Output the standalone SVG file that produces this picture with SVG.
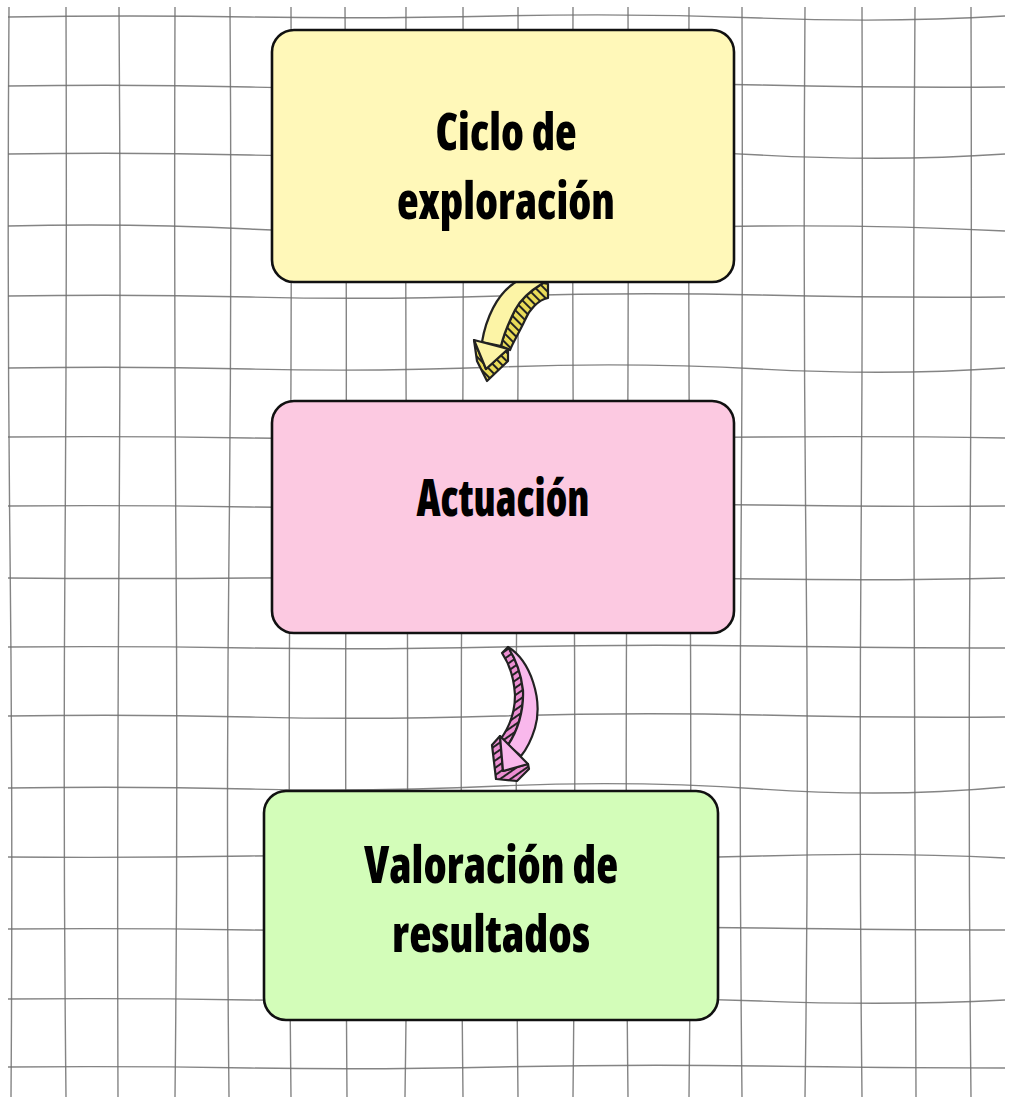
<svg xmlns="http://www.w3.org/2000/svg" width="1012" height="1097" viewBox="0 0 1012 1097">
<style>
.grid path{fill:none;stroke:#6f6f6f;stroke-width:1.4;opacity:.85}
.box{stroke:#111;stroke-width:2.6}
.lbl{font-family:"Open Sans","DejaVu Sans Condensed","Liberation Sans",sans-serif;font-weight:800;font-stretch:condensed;font-size:52px;fill:#000;text-anchor:middle}
.edge path{stroke:#222;stroke-width:2.2;stroke-linejoin:round}
</style>
<defs>
<pattern id="hy" patternUnits="userSpaceOnUse" width="6" height="6" patternTransform="rotate(-45)">
<rect width="6" height="6" fill="#E9DB58"/><line x1="1" y1="0" x2="1" y2="6" stroke="#222" stroke-width="2"/>
</pattern>
<pattern id="hp" patternUnits="userSpaceOnUse" width="6" height="6" patternTransform="rotate(55)">
<rect width="6" height="6" fill="#EC8ED2"/><line x1="1" y1="0" x2="1" y2="6" stroke="#222" stroke-width="2"/>
</pattern>
</defs>
<rect width="1012" height="1097" fill="#fff"/>
<g class="grid">
<path d="M8 17 Q130 15 250 17 T500 16 T760 18 T1005 16"/>
<path d="M8 86 Q130 84 250 87 T500 86 T760 85 T1005 87"/>
<path d="M8 154 Q130 152 250 155 T500 153 T760 155 T1005 154"/>
<path d="M8 226 Q130 223 250 229 T500 231 T760 226 T1005 231"/>
<path d="M8 296 Q130 294 250 297 T500 296 T760 295 T1005 297"/>
<path d="M8 368 Q130 366 250 369 T500 367 T760 369 T1005 368"/>
<path d="M8 437 Q130 436 250 438 T500 439 T760 437 T1005 438"/>
<path d="M8 506 Q130 505 250 507 T500 506 T760 505 T1005 506"/>
<path d="M8 578 Q130 579 250 578 T500 577 T760 579 T1005 578"/>
<path d="M8 647 Q130 646 250 648 T500 647 T760 646 T1005 648"/>
<path d="M8 716 Q130 714 250 717 T500 716 T760 715 T1005 717"/>
<path d="M8 788 Q130 786 250 789 T500 786 T760 789 T1005 787"/>
<path d="M8 857 Q130 858 250 856 T500 857 T760 856 T1005 858"/>
<path d="M8 929 Q130 928 250 930 T500 929 T760 928 T1005 930"/>
<path d="M8 999 Q130 998 250 1000 T500 999 T760 1001 T1005 1000"/>
<path d="M8 1067 Q130 1066 250 1068 T500 1067 T760 1066 T1005 1068"/>
<path d="M9 7 Q7 280 10 550 T11 1097"/>
<path d="M66 7 Q67 280 65 550 T66 1097"/>
<path d="M119 7 Q121 280 119 550 T118 1097"/>
<path d="M175 7 Q174 280 176 550 T175 1097"/>
<path d="M230 7 Q232 280 229 550 T229 1097"/>
<path d="M291 7 Q292 280 290 550 T291 1097"/>
<path d="M345 7 Q347 280 346 550 T347 1097"/>
<path d="M406 7 Q405 280 407 550 T405 1097"/>
<path d="M463 7 Q464 280 462 550 T463 1097"/>
<path d="M518 7 Q519 280 517 550 T518 1097"/>
<path d="M573 7 Q572 280 574 550 T573 1097"/>
<path d="M628 7 Q629 280 627 550 T628 1097"/>
<path d="M689 7 Q688 280 690 550 T689 1097"/>
<path d="M742 7 Q743 280 741 550 T742 1097"/>
<path d="M805 7 Q803 280 806 550 T805 1097"/>
<path d="M862 7 Q863 280 861 550 T862 1097"/>
<path d="M915 7 Q913 280 914 550 T916 1097"/>
<path d="M971 7 Q972 280 970 550 T971 1097"/>
</g>
<g class="edge" id="connectors">
<g id="arrow1">
<path d="M543 283 L548 284 L548 298 C538 300 529 310 525 320 C519 333 513 342 510 350 L501 346 C504 333 509 322 515 310 C520 300 530 291 543 283 Z" fill="url(#hy)"/>
<path d="M482 342 C486 318 497 295 513 284 C522 277 535 276 543 283 C530 291 520 300 515 310 C509 322 504 333 501 346 Z" fill="#FCF4A6"/>
<path d="M474 340 L486 369 L508 349 L508 361 L487 381 L477 361 Z" fill="url(#hy)"/>
<path d="M474 340 L508 349 L486 369 Z" fill="#FCF4A6"/>
</g>
<g id="arrow2">
<path d="M502 653 L508 647 C515 658 521 672 523 690 C524 712 517 732 508 745 L500 740 C509 728 515 712 515 695 C514 678 510 665 502 653 Z" fill="url(#hp)"/>
<path d="M508 647 C531 661 543 700 535 728 C531 741 526 750 521 756 L508 745 C517 732 524 712 523 690 C521 672 515 658 508 647 Z" fill="#F9B8EC"/>
<path d="M500 736 L492 745 L496 779 L517 781 L529 769 L528 764 L503 771 Z" fill="url(#hp)"/>
<path d="M500 736 L528 764 L503 771 Z" fill="#F9B8EC"/>
</g>
</g>
<g id="node1">
<rect class="box" x="272" y="30" width="462" height="252" rx="22" fill="#FFF8B9"/>
<text class="lbl" x="506" y="150" textLength="141" lengthAdjust="spacingAndGlyphs">Ciclo de</text>
<text class="lbl" x="506" y="219" textLength="218" lengthAdjust="spacingAndGlyphs">exploración</text>
</g>
<g id="node2">
<rect class="box" x="272" y="401" width="462" height="232" rx="22" fill="#FCC9E1"/>
<text class="lbl" x="503" y="516" textLength="173" lengthAdjust="spacingAndGlyphs">Actuación</text>
</g>
<g id="node3">
<rect class="box" x="264" y="791" width="454" height="229" rx="22" fill="#D3FDB9"/>
<text class="lbl" x="491" y="883" textLength="254" lengthAdjust="spacingAndGlyphs">Valoración de</text>
<text class="lbl" x="491" y="952" textLength="198" lengthAdjust="spacingAndGlyphs">resultados</text>
</g>
</svg>
